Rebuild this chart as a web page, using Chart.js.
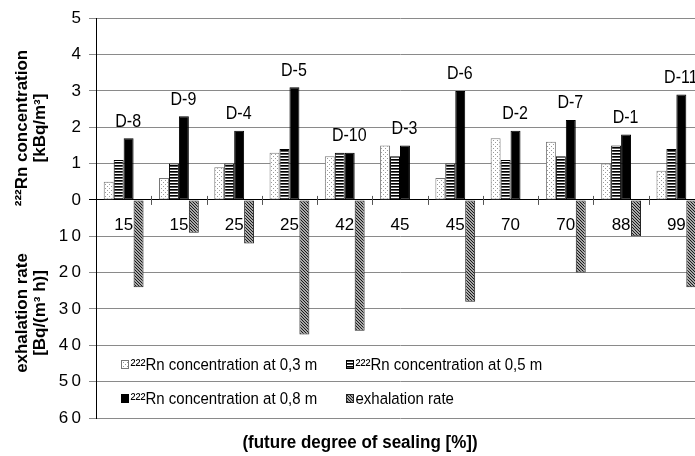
<!DOCTYPE html>
<html>
<head>
<meta charset="utf-8">
<script src="https://cdn.jsdelivr.net/npm/chart.js@4.4.1/dist/chart.umd.min.js"></script>
<style>
  html, body { margin: 0; padding: 0; background: #fff; overflow: hidden; }
  #wrap { position: relative; width: 712px; height: 456px; }
</style>
</head>
<body>
<div id="wrap"><canvas id="chart"></canvas></div>
<script>
  // future degree of sealing [%] and site names
  const sealing = ['15', '15', '25', '25', '42', '45', '45', '70', '70', '88', '99'];
  const sites = ['D-8', 'D-9', 'D-4', 'D-5', 'D-10', 'D-3', 'D-6', 'D-2', 'D-7', 'D-1', 'D-11'];

  // 222Rn concentration [kBq/m3]
  const conc03 = [0.5, 0.6, 0.9, 1.3, 1.2, 1.5, 0.6, 1.7, 1.6, 1.0, 0.8];
  const conc05 = [1.1, 1.0, 1.0, 1.4, 1.3, 1.2, 1.0, 1.1, 1.2, 1.5, 1.4];
  const conc08 = [1.7, 2.3, 1.9, 3.1, 1.3, 1.5, 3.0, 1.9, 2.2, 1.8, 2.9];

  // exhalation rate [Bq/(m3 h)], drawn downwards at 1/10 scale
  const exhalation = [24, 9, 12, 37, 36, 0, 28, 0, 20, 10, 24];

  const concTicks = ['0', '1', '2', '3', '4', '5'];
  const rateTicks = ['1\u20090', '2\u20090', '3\u20090', '4\u20090', '5\u20090', '6\u20090'];

  const FONT = '"Liberation Sans", Arial, sans-serif';

  function makePattern(w, h, draw) {
    const c = document.createElement('canvas');
    c.width = w; c.height = h;
    const g = c.getContext('2d');
    draw(g);
    return g.createPattern(c, 'repeat');
  }

  const dotted = makePattern(4, 4, g => {
    g.fillStyle = '#fff'; g.fillRect(0, 0, 4, 4);
    g.fillStyle = '#9a9a9a';
    g.fillRect(1, 0, 1, 1); g.fillRect(3, 2, 1, 1);
  });
  const striped = makePattern(3, 3, g => {
    g.fillStyle = '#fff'; g.fillRect(0, 0, 3, 3);
    g.fillStyle = '#000'; g.fillRect(0, 0, 3, 1);
    g.fillStyle = '#555'; g.fillRect(0, 1, 3, 1);
  });
  const hatched = makePattern(3, 3, g => {
    g.fillStyle = '#a8a8a8'; g.fillRect(0, 0, 3, 3);
    g.fillStyle = '#1a1a1a';
    g.fillRect(0, 0, 1, 1); g.fillRect(1, 1, 1, 1); g.fillRect(2, 2, 1, 1);
  });

  // text slightly taller than wide, as in the original
  function tallText(ctx, text, x, y) {
    ctx.save();
    ctx.translate(x, y);
    ctx.scale(1, 1.1);
    ctx.fillText(text, 0, 0);
    ctx.restore();
  }

  // site names above each group
  const siteLabels = {
    id: 'siteLabels',
    afterDatasetsDraw(chart) {
      const { ctx, scales: { x, y } } = chart;
      ctx.save();
      ctx.font = '16px ' + FONT;
      ctx.fillStyle = '#000';
      ctx.textAlign = 'center';
      ctx.textBaseline = 'middle';
      sites.forEach((s, i) => {
        const top = Math.max(conc03[i], conc05[i], conc08[i]) + 0.45;
        tallText(ctx, s, x.getPixelForValue(i) + 4.5, y.getPixelForValue(top));
      });
      ctx.restore();
    }
  };

  // tick marks crossing the zero line between groups
  const crossTicks = {
    id: 'crossTicks',
    afterDatasetsDraw(chart) {
      const { ctx, chartArea, scales: { y } } = chart;
      const y0 = y.getPixelForValue(0);
      const step = (chartArea.right - chartArea.left) / sealing.length;
      ctx.save();
      ctx.strokeStyle = '#555';
      ctx.lineWidth = 1;
      ctx.beginPath();
      for (let i = 1; i < sealing.length; i++) {
        const px = Math.round(chartArea.left + i * step) + 0.5;
        ctx.moveTo(px, y0 - 4);
        ctx.lineTo(px, y0 + 5);
      }
      ctx.stroke();
      ctx.restore();
    }
  };

  // legend inside the plot, titles round the plot
  const decorations = {
    id: 'decorations',
    afterDraw(chart) {
      const { ctx } = chart;
      ctx.save();
      const cols = [121.5, 346.5], rows = [360.5, 394.5];
      ctx.font = '15px ' + FONT;
      ctx.textBaseline = 'middle';
      ctx.textAlign = 'left';
      chart.data.datasets.forEach((ds, i) => {
        const bx = cols[i % 2], by = rows[Math.floor(i / 2)];
        ctx.fillStyle = ds.backgroundColor;
        ctx.fillRect(bx, by, 7, 8);
        ctx.strokeStyle = ds.borderColor;
        ctx.lineWidth = 1;
        ctx.strokeRect(bx, by, 7, 8);
        ctx.fillStyle = '#000';
        tallText(ctx, ds.label, bx + 9, by + 4.5);
      });

      ctx.font = 'bold 16px ' + FONT;
      ctx.textAlign = 'center';
      const vtitle = (lines, cy) => {
        ctx.save();
        ctx.translate(0, cy);
        ctx.rotate(-Math.PI / 2);
        ctx.scale(1.06, 1);
        ctx.fillText(lines[0], 0, 23);
        ctx.fillText(lines[1], 0, 41);
        ctx.restore();
      };
      vtitle(['²²²Rn concentration', '[kBq/m³]'], 128);
      vtitle(['exhalation rate', '[Bq/(m³ h)]'], 313);

      ctx.font = 'bold 17px ' + FONT;
      tallText(ctx, '(future degree of sealing [%])', 360, 443);
      ctx.restore();
    }
  };

  const ctx = document.getElementById('chart').getContext('2d');
  const chart = new Chart(ctx, {
    type: 'bar',
    data: {
      labels: sealing,
      datasets: [
        { label: '²²²Rn concentration at 0,3 m', data: conc03, backgroundColor: dotted, borderColor: '#777' },
        { label: '²²²Rn concentration at 0,5 m', data: conc05, backgroundColor: striped, borderColor: '#000' },
        { label: '²²²Rn concentration at 0,8 m', data: conc08, backgroundColor: '#000', borderColor: '#000' },
        { label: 'exhalation rate', data: exhalation.map(v => v ? -v / 10 : null), backgroundColor: hatched, borderColor: '#222' }
      ]
    },
    options: {
      responsive: true,
      maintainAspectRatio: false,
      animation: false,
      datasets: {
        bar: {
          categoryPercentage: 0.72,
          barPercentage: 1,
          borderWidth: 1,
          borderSkipped: false
        }
      },
      layout: { padding: { left: 0, right: 8, top: 14, bottom: 38 } },
      plugins: {
        legend: { display: false },
        tooltip: { enabled: false }
      },
      scales: {
        x: {
          position: { y: 0 },
          grid: { display: false },
          border: { display: true, color: '#000', width: 1 },
          ticks: {
            color: '#000',
            font: { family: FONT, size: 17 },
            padding: 7,
            maxRotation: 0,
            autoSkip: false
          }
        },
        y: {
          min: -6,
          max: 5,
          afterFit(scale) { scale.width = 96; },
          grid: {
            color: c => (c.tick && c.tick.value === 0 ? '#000' : '#8a8a8a'),
            tickLength: 7,
            lineWidth: 1
          },
          border: { display: true, color: '#000', width: 1 },
          ticks: {
            stepSize: 1,
            color: '#000',
            padding: 8,
            font: { family: FONT, size: 17 },
            callback: v => (v >= 0 ? concTicks[v] : rateTicks[-v - 1])
          }
        }
      }
    },
    plugins: [siteLabels, crossTicks, decorations]
  });
</script>
</body>
</html>
